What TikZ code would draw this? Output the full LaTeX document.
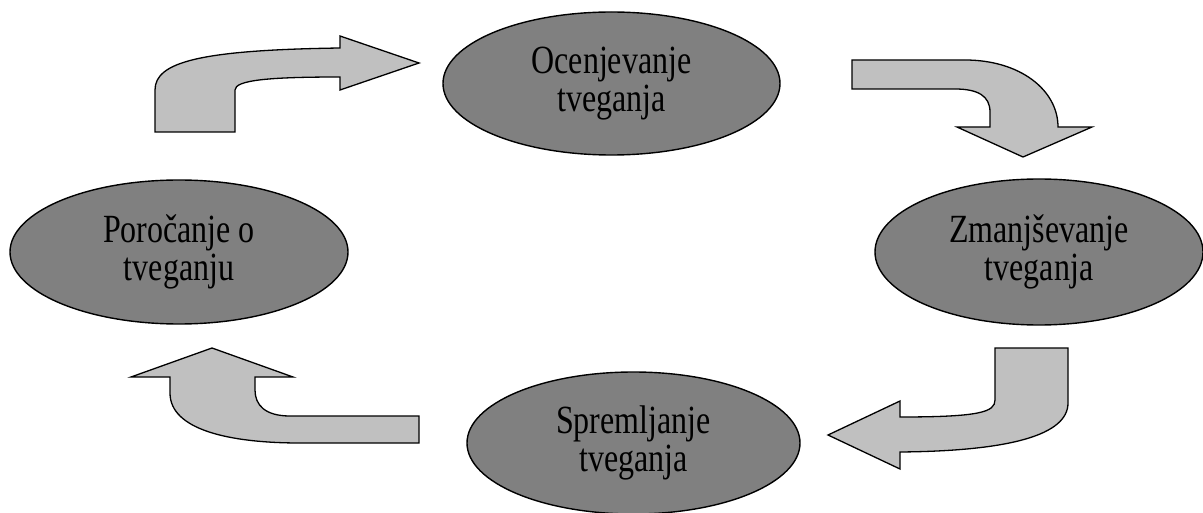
\documentclass[tikz,border=0pt]{standalone}
\usepackage{fontspec}
\setmainfont{Liberation Serif}[FakeStretch=0.8]
\usetikzlibrary{shapes.geometric}
\definecolor{phasefill}{HTML}{808080}
\definecolor{arrowfill}{HTML}{C0C0C0}
\tikzset{
  phase/.style={ellipse, draw=black, line width=1.4pt, fill=phasefill,
    inner sep=0pt, align=center, font=\fontsize{40}{38}\selectfont},
  blockarrow/.style={draw=black, line width=1.3pt, fill=arrowfill, line join=miter},
}
\begin{document}
\begin{tikzpicture}[x=1pt, y=-1pt]
\useasboundingbox (0,0) rectangle (1203,513);

% the four phases of the cycle
\node[phase, minimum width=337pt, minimum height=143pt] (assess) at (611.5,83.5) {Ocenjevanje\\tveganja};
\node[phase, minimum width=328pt, minimum height=146pt] (reduce) at (1039,252) {Zmanjševanje\\tveganja};
\node[phase, minimum width=333pt, minimum height=142pt] (monitor) at (633.5,443) {Spremljanje\\tveganja};
\node[phase, minimum width=338pt, minimum height=144pt] (report) at (179,252) {Poročanje o\\tveganju};

% bent block arrows between the phases
% reporting -> assessment
\draw[blockarrow] (155,132) -- (235,132) -- (235,90)
  .. controls (235,80) and (270,77) .. (340,77)
  -- (340,90) -- (419,63) -- (340,36) -- (340,48)
  .. controls (200,50) and (155,62) .. (155,90) -- cycle;
% assessment -> reduction
\draw[blockarrow] (852,60) -- (965,60)
  .. controls (1020,60) and (1058,90) .. (1058,127)
  -- (1092,127) -- (1023,157) -- (957,127) -- (990,127) -- (990,112)
  .. controls (990,96) and (978,89) .. (955,89) -- (852,89) -- cycle;
% reduction -> monitoring
\draw[blockarrow] (995,348) -- (1068,348) -- (1068,403)
  .. controls (1068,435) and (1010,451) .. (900,452)
  -- (900,469) -- (828,435) -- (900,401) -- (900,417)
  .. controls (980,417) and (995,412) .. (995,400) -- cycle;
% monitoring -> reporting
\draw[blockarrow] (419,416) -- (290,416)
  .. controls (265,416) and (255,405) .. (255,390)
  -- (255,377) -- (293,377) -- (212,348) -- (131,377) -- (170,377) -- (170,393)
  .. controls (170,430) and (230,443) .. (300,443) -- (419,443) -- cycle;
\end{tikzpicture}
\end{document}
